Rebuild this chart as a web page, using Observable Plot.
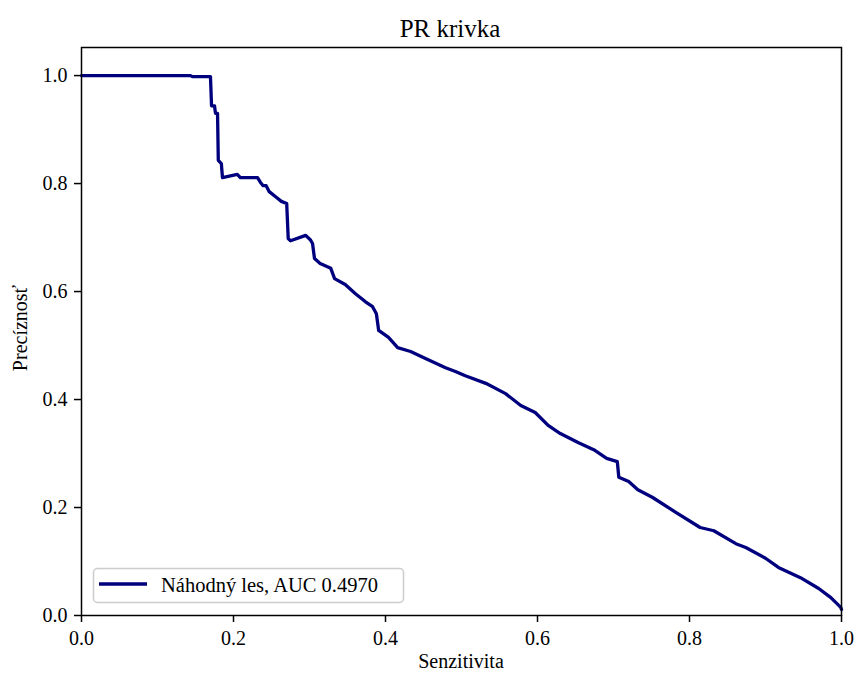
<!DOCTYPE html>
<html>
<head>
<meta charset="utf-8">
<script src="https://cdn.jsdelivr.net/npm/d3@7"></script>
<script src="https://cdn.jsdelivr.net/npm/@observablehq/plot@0.6"></script>
<style>
  html, body { margin: 0; padding: 0; background: white; }
</style>
</head>
<body>
<div id="chart"></div>
<script>
const titleText = "PR krivka";
const xLabel = "Senzitivita";
const yLabel = "Precíznosť";
const legendLabel = "Náhodný les, AUC 0.4970";
const xTicks = [0, 0.2, 0.4, 0.6, 0.8, 1.0];
const yTicks = [0, 0.2, 0.4, 0.6, 0.8, 1.0];

const recall = [0, 0.1434, 0.146, 0.1697, 0.1711, 0.175, 0.1763, 0.179, 0.180, 0.184, 0.1855,
  0.205, 0.209, 0.2316, 0.2355, 0.239, 0.243, 0.247, 0.255, 0.263, 0.270, 0.272, 0.275,
  0.295, 0.301, 0.304, 0.3066, 0.314, 0.328, 0.333, 0.347, 0.3605, 0.3737, 0.383, 0.388,
  0.391, 0.404, 0.416, 0.433, 0.4526, 0.479, 0.492, 0.505, 0.532, 0.558, 0.578, 0.597,
  0.614, 0.630, 0.654, 0.674, 0.691, 0.705, 0.707, 0.720, 0.732, 0.751, 0.782, 0.814,
  0.832, 0.861, 0.874, 0.900, 0.917, 0.946, 0.970, 0.986, 0.999, 1.0];
const precision = [1.0, 1.0, 0.998, 0.998, 0.944, 0.944, 0.930, 0.930, 0.843, 0.837, 0.811,
  0.817, 0.811, 0.811, 0.802, 0.796, 0.796, 0.785, 0.776, 0.767, 0.763, 0.698, 0.694,
  0.704, 0.696, 0.689, 0.661, 0.652, 0.643, 0.624, 0.613, 0.596, 0.581, 0.572, 0.559,
  0.528, 0.515, 0.496, 0.489, 0.476, 0.459, 0.452, 0.444, 0.430, 0.411, 0.389, 0.376,
  0.352, 0.337, 0.320, 0.307, 0.291, 0.285, 0.256, 0.248, 0.233, 0.219, 0.191, 0.163,
  0.157, 0.133, 0.126, 0.106, 0.089, 0.070, 0.050, 0.033, 0.015, 0.011];

const data = recall.map((r, i) => ({recall: r, precision: precision[i]}));
const lineColor = "#00007f";
const font = "'Liberation Serif', 'DejaVu Serif', serif";

const chart = Plot.plot({
  width: 858,
  height: 675,
  marginLeft: 81,
  marginRight: 17,
  marginTop: 47,
  marginBottom: 60,
  style: {fontFamily: font, fontSize: "20px", background: "white", color: "black", overflow: "visible"},
  x: {domain: [0, 1]},
  y: {domain: [0, 1.052]},
  marks: [
    Plot.axisX({ticks: xTicks, tickFormat: d3.format(".1f"), tickSize: 7, tickPadding: 8, label: null, stroke: "black", strokeWidth: 1.5, fontSize: 20}),
    Plot.axisY({ticks: yTicks, tickFormat: d3.format(".1f"), tickSize: 7, tickPadding: 7, label: null, stroke: "black", strokeWidth: 1.5, fontSize: 20}),
    Plot.line(data, {x: "recall", y: "precision", stroke: lineColor, strokeWidth: 3.3, strokeLinejoin: "round"}),
    Plot.frame({stroke: "black", strokeWidth: 1.5})
  ]
});

const svg = d3.select(chart);
// title
svg.append("text").attr("x", 450).attr("y", 37).attr("text-anchor", "middle")
  .style("font-family", font).style("font-size", "25px").attr("fill", "black").text(titleText);
// x label
svg.append("text").attr("x", 461).attr("y", 668).attr("text-anchor", "middle")
  .style("font-family", font).style("font-size", "20px").attr("fill", "black").text(xLabel);
// y label
svg.append("text").attr("transform", "translate(27,328) rotate(-90)").attr("text-anchor", "middle")
  .style("font-family", font).style("font-size", "20px").attr("fill", "black").text(yLabel);
// legend
const lg = svg.append("g");
lg.append("rect").attr("x", 93.5).attr("y", 568.5).attr("width", 310).attr("height", 34).attr("rx", 4)
  .attr("fill", "white").attr("fill-opacity", 0.8).attr("stroke", "#cccccc").attr("stroke-width", 1.5);
lg.append("line").attr("x1", 99).attr("x2", 147).attr("y1", 584).attr("y2", 584)
  .attr("stroke", lineColor).attr("stroke-width", 3.3);
lg.append("text").attr("x", 161).attr("y", 591.5).attr("text-anchor", "start")
  .style("font-family", font).style("font-size", "20.5px").attr("fill", "black").text(legendLabel);

document.getElementById("chart").appendChild(chart);
</script>
</body>
</html>
